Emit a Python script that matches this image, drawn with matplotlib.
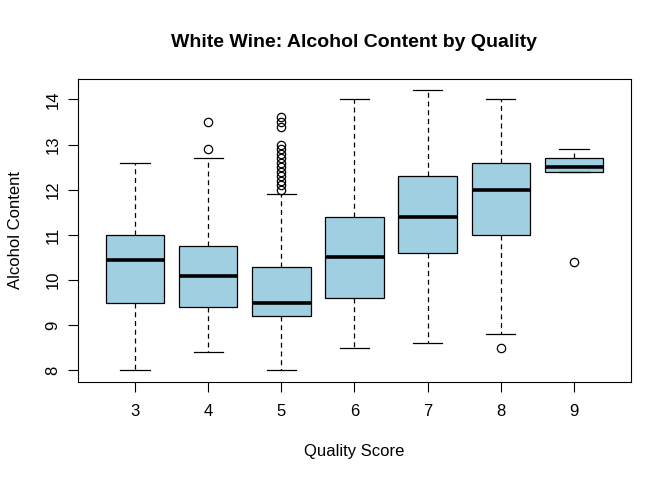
import matplotlib
matplotlib.use("Agg")
import matplotlib.pyplot as plt

plt.rcParams['font.family'] = ['Liberation Sans', 'DejaVu Sans']

quality = [3, 4, 5, 6, 7, 8, 9]
q1 = [9.5, 9.4, 9.2, 9.6, 10.6, 11.0, 12.4]
med = [10.45, 10.1, 9.5, 10.5, 11.4, 12.0, 12.5]
q3 = [11.0, 10.75, 10.3, 11.4, 12.3, 12.6, 12.7]
whislo = [8.0, 8.4, 8.0, 8.5, 8.6, 8.8, 12.4]
whishi = [12.6, 12.7, 11.9, 14.0, 14.2, 14.0, 12.9]
fliers = [
    [],
    [12.9, 13.5],
    [12.0, 12.1, 12.2, 12.3, 12.4, 12.5, 12.6, 12.7, 12.8, 12.9, 13.0,
     13.4, 13.5, 13.6],
    [],
    [],
    [8.5],
    [10.4],
]

stats = []
for i in range(len(quality)):
    stats.append(dict(q1=q1[i], med=med[i], q3=q3[i], whislo=whislo[i],
                      whishi=whishi[i], fliers=fliers[i], label=str(quality[i])))

fig = plt.figure(figsize=(6.72, 4.8), dpi=100)
ax = fig.add_axes([0.116, 0.205, 0.823, 0.630])

ax.bxp(stats, positions=range(1, 8), widths=0.8, patch_artist=True,
       boxprops=dict(facecolor='#a0cfe1', edgecolor='black', linewidth=0.9),
       medianprops=dict(color='black', linewidth=2.6),
       whiskerprops=dict(color='black', linestyle=(0, (4, 3)), linewidth=0.9),
       capprops=dict(color='black', linewidth=0.9),
       capwidths=0.4,
       flierprops=dict(marker='o', markerfacecolor='none', markeredgecolor='black',
                       markersize=6, markeredgewidth=0.9))

ax.set_xlim(0.22, 7.78)
ax.set_ylim(7.752, 14.448)
ax.set_yticks(range(8, 15))
ax.set_xticks(range(1, 8))
ax.set_xticklabels([str(q) for q in quality])
ax.tick_params(axis='both', labelsize=12, length=7, width=0.8)
ax.tick_params(axis='x', pad=9)
ax.tick_params(axis='y', pad=5.5)
for lab in ax.get_yticklabels():
    lab.set_rotation(90)
    lab.set_va('center')
for s in ax.spines.values():
    s.set_linewidth(0.8)

ax.set_title("White Wine: Alcohol Content by Quality", fontsize=14,
             fontweight='bold', pad=23)
ax.set_xlabel("Quality Score", fontsize=12, labelpad=18)
ax.set_ylabel("Alcohol Content", fontsize=12, labelpad=16)

fig.savefig("out.png", dpi=100)
